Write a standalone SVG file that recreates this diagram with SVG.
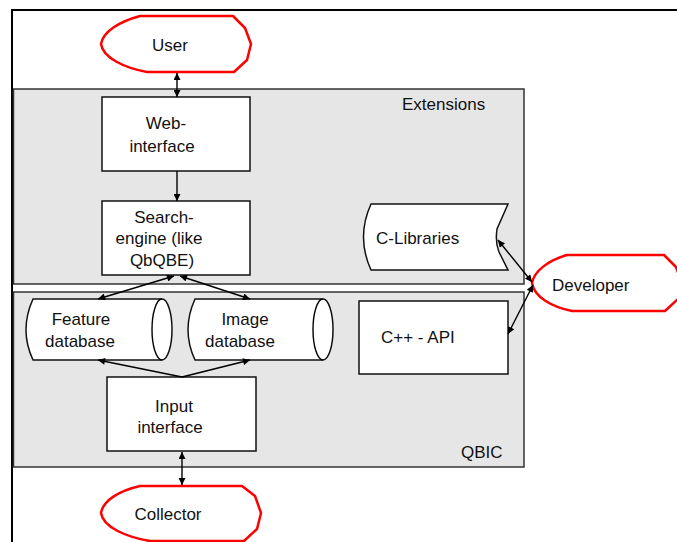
<svg xmlns="http://www.w3.org/2000/svg" width="677" height="542" viewBox="0 0 677 542">
<style>
text{font-family:"Liberation Sans",Arial,sans-serif;font-size:17px;fill:#111}
.c{text-anchor:middle}
.box{fill:#fff;stroke:#111;stroke-width:1.5}
.grp{fill:#e6e6e6;stroke:#333;stroke-width:1.5}
.actor{fill:#fff;stroke:#f00;stroke-width:2.5;stroke-linejoin:round}
.ln{stroke:#000;stroke-width:1.4;fill:none}
</style>
<defs>
<marker id="ah" viewBox="0 0 10 10" refX="10" refY="5" markerWidth="9" markerHeight="7" markerUnits="userSpaceOnUse" orient="auto-start-reverse">
<path d="M0,0 L10,5 L0,10 Z" fill="#000"/>
</marker>
</defs>
<rect width="677" height="542" fill="#fff"/>
<path d="M12,542 L12,10 L677,10" fill="none" stroke="#000" stroke-width="2"/>

<g id="extensions">
<rect class="grp" x="13.5" y="89" width="510.5" height="195"/>
<text x="402" y="110">Extensions</text>
</g>
<g id="qbic">
<rect class="grp" x="13.5" y="292" width="510.5" height="175"/>
<text x="461" y="458">QBIC</text>
</g>

<g id="user">
<path class="actor" d="M101,44 C103,32 118,22 140,16 L233,16 L245,28 L251,44 L247,60 L234,72 L147,72 C125,68 103,58 101,44 Z"/>
<text class="c" x="170" y="51">User</text>
</g>
<g id="developer">
<path class="actor" d="M532,283 C534,271 549,260 567,255 L664,255 L676,267 L682,283 L678,299 L665,311 L572,311 C552,307 534,297 532,283 Z"/>
<text x="552" y="291">Developer</text>
</g>
<g id="collector">
<path class="actor" d="M101,513 C103,501 118,491 140,486 L242,486 L255,496 L261,513 L257,529 L244,541 L150,541 C126,537 103,527 101,513 Z"/>
<text class="c" x="168" y="520">Collector</text>
</g>

<g id="web-interface">
<rect class="box" x="102" y="97" width="148" height="74"/>
<text class="c" x="166" y="129">Web-</text>
<text class="c" x="162" y="152">interface</text>
</g>
<g id="search-engine">
<rect class="box" x="102" y="201" width="148" height="74"/>
<text class="c" x="164" y="223">Search-</text>
<text class="c" x="159" y="244">engine (like</text>
<text class="c" x="162" y="266">QbQBE)</text>
</g>
<g id="c-libraries">
<path class="box" d="M371,204 L508,204 L497,229 Q495,242 499,252 L508,270 L371,270 Q356,237 371,204 Z"/>
<text x="376" y="244">C-Libraries</text>
</g>
<g id="feature-database">
<path class="box" d="M33,299 L162,299 A10,30.5 0 0 1 162,360 L33,360 Q19,330 33,299 Z"/>
<path class="ln" d="M162,299 A10,30.5 0 0 0 162,360"/>
<text class="c" x="81" y="325">Feature</text>
<text class="c" x="80" y="347">database</text>
</g>
<g id="image-database">
<path class="box" d="M195,299 L323,299 A10,30.5 0 0 1 323,360 L195,360 Q181,330 195,299 Z"/>
<path class="ln" d="M323,299 A10,30.5 0 0 0 323,360"/>
<text class="c" x="245" y="325">Image</text>
<text class="c" x="240" y="347">database</text>
</g>
<g id="cpp-api">
<rect class="box" x="359" y="301" width="149" height="73"/>
<text x="381" y="343">C++ - API</text>
</g>
<g id="input-interface">
<rect class="box" x="107" y="377" width="149" height="74"/>
<text class="c" x="174" y="412">Input</text>
<text class="c" x="170" y="433">interface</text>
</g>

<g id="connectors">
<line class="ln" x1="177" y1="73" x2="177" y2="97" marker-start="url(#ah)" marker-end="url(#ah)"/>
<line class="ln" x1="177" y1="171" x2="177" y2="201" marker-end="url(#ah)"/>
<line class="ln" x1="174" y1="276" x2="98" y2="299" marker-start="url(#ah)" marker-end="url(#ah)"/>
<line class="ln" x1="180" y1="276" x2="250" y2="299" marker-start="url(#ah)" marker-end="url(#ah)"/>
<line class="ln" x1="182" y1="377" x2="98" y2="360" marker-end="url(#ah)"/>
<line class="ln" x1="182" y1="377" x2="250" y2="360" marker-end="url(#ah)"/>
<line class="ln" x1="182" y1="452" x2="182" y2="485" marker-start="url(#ah)" marker-end="url(#ah)"/>
<line class="ln" x1="498" y1="240" x2="532" y2="282" marker-start="url(#ah)" marker-end="url(#ah)"/>
<line class="ln" x1="533" y1="285" x2="508" y2="334" marker-start="url(#ah)" marker-end="url(#ah)"/>
</g>
</svg>
